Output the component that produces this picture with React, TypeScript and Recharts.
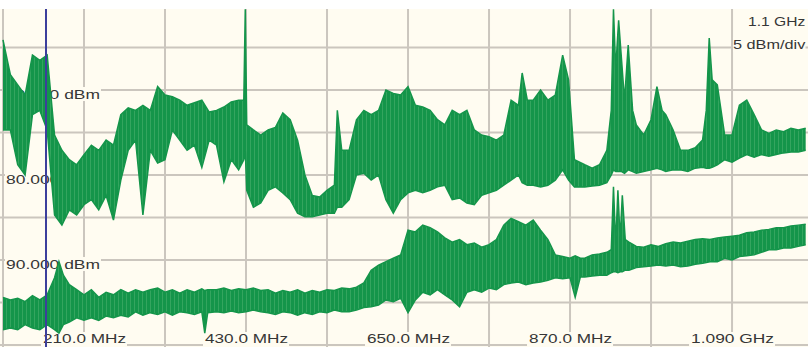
import { ComposedChart, Area, XAxis, YAxis, ReferenceLine } from "recharts";

// trace envelopes (MHz, dBm)
const upperFreq = [100, 110, 120, 130, 140, 150, 160, 170, 180, 190, 200, 210, 220, 230, 240, 250, 260, 270, 280, 290, 300, 310, 320, 330, 340, 350, 360, 370, 380, 390, 400, 410, 420, 427, 429, 431, 440, 450, 460, 470, 480, 490, 500, 510, 520, 530, 540, 550, 554, 560, 570, 580, 590, 600, 610, 620, 630, 640, 650, 660, 670, 680, 690, 700, 710, 720, 730, 740, 750, 760, 770, 780, 790, 800, 805, 812, 820, 830, 840, 850, 860, 868, 876, 890, 900, 910, 920, 926, 929, 932, 936, 940, 944, 949, 955, 960, 970, 980, 988, 995, 1000, 1010, 1020, 1030, 1040, 1050, 1055, 1059, 1063, 1070, 1080, 1090, 1100, 1110, 1120, 1130, 1140, 1150, 1160, 1170, 1180, 1190];
const upperHigh = [-64.1, -68.2, -69.4, -70.6, -65.9, -66.5, -65.9, -75.3, -77.1, -78.2, -78.8, -77.6, -76.5, -77.1, -75.9, -76.5, -72.9, -72.1, -72.4, -71.8, -72.4, -69.6, -70.6, -70.8, -71.2, -71.8, -71.5, -71.2, -72.6, -72.4, -72.0, -71.4, -71.2, -71.2, -60.5, -74.1, -74.7, -75.3, -74.7, -74.4, -72.7, -73.5, -75.9, -80.0, -82.4, -82.6, -81.8, -81.2, -72.4, -77.1, -77.1, -73.5, -72.4, -72.9, -72.4, -70.0, -70.4, -70.6, -69.6, -71.8, -72.0, -72.4, -73.5, -74.1, -72.4, -72.9, -72.4, -74.7, -75.3, -75.5, -75.9, -75.3, -71.2, -71.8, -68.0, -71.2, -71.2, -70.0, -71.2, -70.6, -65.9, -68.8, -78.2, -78.8, -79.2, -78.8, -77.1, -72.4, -60.5, -67.6, -61.8, -66.5, -71.2, -64.7, -72.4, -74.1, -75.3, -73.5, -69.6, -72.4, -72.9, -74.7, -77.1, -77.1, -76.8, -75.9, -72.4, -63.9, -68.8, -69.4, -75.3, -75.3, -71.8, -71.2, -72.9, -74.7, -75.1, -74.7, -74.9, -74.5, -74.7, -74.5];
const upperLow = [-74.7, -74.7, -78.8, -80.0, -72.9, -72.4, -74.7, -84.7, -85.9, -84.1, -84.7, -83.5, -82.9, -84.1, -82.4, -85.3, -80.6, -77.1, -75.9, -84.7, -77.1, -78.6, -78.2, -74.7, -75.9, -77.1, -76.5, -79.1, -75.9, -76.5, -80.8, -78.2, -79.4, -78.2, -77.1, -81.8, -83.8, -83.3, -81.8, -81.4, -82.1, -82.9, -84.5, -84.9, -84.9, -84.7, -84.5, -84.5, -83.8, -83.8, -82.9, -80.0, -79.8, -80.6, -80.0, -82.9, -84.5, -82.9, -82.1, -81.8, -82.1, -81.8, -81.4, -81.2, -82.9, -82.7, -83.3, -83.5, -82.4, -82.1, -81.8, -81.2, -80.6, -80.0, -80.9, -81.2, -81.2, -81.4, -81.2, -80.6, -79.4, -80.6, -81.4, -81.4, -81.3, -81.2, -80.9, -80.0, -79.4, -79.6, -79.6, -79.6, -79.8, -79.4, -79.6, -79.8, -79.6, -79.4, -79.2, -79.4, -79.6, -79.4, -79.4, -79.6, -79.2, -79.1, -79.2, -79.2, -79.1, -78.8, -78.2, -78.5, -78.0, -77.6, -77.9, -77.6, -77.8, -77.6, -77.4, -77.3, -77.3, -77.1];

const lowerFreq = [100, 110, 120, 130, 140, 150, 160, 170, 176, 182, 190, 200, 210, 220, 230, 240, 250, 260, 270, 280, 290, 300, 310, 320, 330, 340, 350, 360, 370, 374, 378, 390, 400, 410, 420, 430, 440, 450, 460, 470, 480, 490, 500, 510, 520, 530, 540, 550, 560, 570, 580, 590, 600, 610, 620, 630, 640, 650, 660, 670, 680, 690, 700, 710, 720, 730, 740, 750, 760, 770, 780, 790, 800, 810, 820, 830, 840, 850, 860, 870, 877, 884, 890, 900, 910, 920, 926, 929, 932, 935, 938, 941, 945, 950, 960, 970, 980, 990, 1000, 1010, 1020, 1030, 1040, 1050, 1060, 1070, 1080, 1090, 1100, 1110, 1120, 1130, 1140, 1150, 1160, 1170, 1180, 1190];
const lowerHigh = [-94.4, -94.7, -94.5, -94.9, -94.2, -94.7, -94.1, -92.1, -90.2, -91.8, -92.9, -93.5, -94.1, -93.5, -94.4, -93.8, -94.1, -93.5, -93.9, -93.5, -93.8, -93.5, -93.3, -93.8, -93.5, -93.9, -93.5, -93.8, -93.4, -93.6, -93.5, -93.5, -93.3, -93.6, -93.4, -93.5, -93.3, -93.6, -93.5, -93.9, -93.6, -93.8, -93.5, -93.9, -93.6, -93.8, -93.5, -93.6, -93.3, -93.4, -93.2, -92.7, -91.2, -90.6, -90.2, -89.8, -89.4, -86.5, -86.7, -85.9, -86.2, -86.7, -87.4, -87.9, -87.6, -88.2, -88.0, -88.5, -88.2, -87.6, -85.9, -85.1, -85.5, -85.9, -85.3, -86.5, -87.6, -89.4, -89.6, -89.8, -89.5, -89.8, -89.8, -89.4, -89.3, -89.1, -88.8, -81.4, -88.2, -81.8, -87.6, -82.4, -87.6, -87.9, -88.4, -88.5, -88.2, -88.4, -88.1, -87.9, -88.0, -87.8, -87.6, -87.5, -87.6, -87.4, -87.3, -87.2, -87.1, -86.8, -86.7, -86.5, -86.4, -86.2, -86.2, -86.0, -85.9, -85.8];
const lowerLow = [-98.2, -98.0, -98.2, -97.6, -98.0, -98.2, -97.6, -98.2, -98.6, -97.6, -97.3, -96.8, -97.1, -96.8, -97.1, -96.6, -96.8, -96.5, -96.7, -96.1, -96.5, -96.2, -96.4, -96.1, -96.5, -96.1, -96.2, -96.4, -96.1, -98.6, -96.2, -96.1, -96.2, -96.0, -96.2, -96.1, -95.9, -96.1, -96.2, -96.4, -96.1, -96.2, -96.5, -96.2, -96.4, -96.1, -96.2, -95.9, -96.1, -96.1, -95.9, -95.6, -95.5, -95.3, -94.7, -94.9, -94.5, -96.2, -94.7, -93.8, -94.1, -93.5, -94.1, -94.7, -95.5, -93.8, -93.5, -93.8, -93.3, -93.5, -92.9, -92.7, -92.6, -92.9, -92.7, -92.6, -92.4, -92.1, -92.2, -92.1, -94.4, -92.0, -92.0, -91.9, -91.8, -91.8, -91.5, -91.4, -91.4, -91.5, -91.4, -91.4, -91.2, -91.2, -90.9, -90.8, -90.7, -90.6, -90.7, -90.6, -90.8, -90.7, -90.5, -90.4, -90.2, -90.2, -89.8, -90.0, -89.6, -89.5, -89.4, -89.1, -88.8, -88.8, -88.6, -88.6, -88.4, -88.2];

const gridFreq = [100, 210, 320, 430, 540, 650, 760, 870, 980, 1090];
const gridLevel = [-65, -70, -75, -80, -85, -90, -95, -100];
const freqTickValues = [210, 430, 650, 870, 1090];
const freqTickLabels = ["210.0 MHz", "430.0 MHz", "650.0 MHz", "870.0 MHz", "1.090 GHz"];
const levelTickValues = [-70, -80, -90];
const levelTickLabels = ["70.000 dBm", "80.000 dBm", "90.000 dBm"];
const markerFreq = 158.4;
const spanText = "1.1 GHz";
const scaleText = "5 dBm/div";

const BG = "#fffcf1";
const GRID = "#cbc6be";
const TRACE = "#14954a";
const TRACE_LIGHT = "#34a55f";
const TEXT = "#363636";
const FONT = "'Liberation Sans', Arial, sans-serif";
const X_DOMAIN = [95.93, 1193.15];
const Y_DOMAIN = [-100.24, -60.47];

const upperData = upperFreq.map((f, i) => ({ f, v: [upperLow[i], upperHigh[i]] }));
const lowerData = lowerFreq.map((f, i) => ({ f, v: [lowerLow[i], lowerHigh[i]] }));

const LevelLabel = (props: any) => {
  const { viewBox, text } = props;
  const y = viewBox.y;
  return (
    <g>
      <rect x={5} y={y - 3} width={96} height={14} fill={BG} />
      <text x={6} y={y + 9} fontSize={13} fontFamily={FONT} fill={TEXT} textLength={94} lengthAdjust="spacingAndGlyphs">
        {text}
      </text>
    </g>
  );
};

const FreqLabel = (props: any) => {
  const { viewBox, text } = props;
  const x = viewBox.x;
  return (
    <g>
      <rect x={x - 43} y={332} width={86} height={15} fill={BG} />
      <text x={x - 41} y={343} fontSize={13} fontFamily={FONT} fill={TEXT} textLength={83} lengthAdjust="spacingAndGlyphs">
        {text}
      </text>
    </g>
  );
};

const layer: React.CSSProperties = { position: "absolute", left: 0, top: 0 };
const cornerText: React.CSSProperties = {
  position: "absolute",
  fontFamily: FONT,
  fontSize: 13,
  color: TEXT,
  background: BG,
  whiteSpace: "nowrap",
  transformOrigin: "left top",
  lineHeight: "15px",
};

export default function App() {
  return (
    <div style={{ position: "relative", width: 808, height: 347, background: "#ffffff", overflow: "hidden" }}>
      <style>{"body{margin:0}"}</style>
      <div style={{ position: "absolute", left: 0, top: 9, width: 808, height: 338, background: BG }} />

      {/* graticule and scale labels, underneath the traces */}
      <div style={layer}>
        <ComposedChart width={808} height={347} data={upperData} margin={{ top: 9, right: 0, bottom: 0, left: 0 }}>
          <XAxis type="number" dataKey="f" domain={X_DOMAIN} hide allowDataOverflow />
          <YAxis type="number" domain={Y_DOMAIN} hide allowDataOverflow />
          {gridFreq.map((f) => (
            <ReferenceLine key={"gx" + f} x={f} stroke={GRID} strokeWidth={2} />
          ))}
          {gridLevel.map((v) => (
            <ReferenceLine key={"gy" + v} y={v} stroke={GRID} strokeWidth={2} />
          ))}
          {levelTickValues.map((v, i) => (
            <ReferenceLine key={"ly" + v} y={v} stroke="none" label={<LevelLabel text={levelTickLabels[i]} />} />
          ))}
          {freqTickValues.map((f, i) => (
            <ReferenceLine key={"lx" + f} x={f} stroke="none" label={<FreqLabel text={freqTickLabels[i]} />} />
          ))}
        </ComposedChart>
      </div>

      <div style={{ ...cornerText, left: 748, top: 14, transform: "scaleX(1.2)" }}>{spanText}</div>
      <div style={{ ...cornerText, left: 733, top: 37, transform: "scaleX(1.25)" }}>{scaleText}</div>

      {/* traces */}
      <div style={layer}>
        <ComposedChart width={808} height={347} margin={{ top: 9, right: 0, bottom: 0, left: 0 }}>
          <defs>
            <pattern id="traceNoise" patternUnits="userSpaceOnUse" width={4} height={7}>
              <rect width={4} height={7} fill={TRACE} />
              <rect x={2} width={1} height={7} fill={TRACE_LIGHT} />
            </pattern>
          </defs>
          <XAxis type="number" dataKey="f" domain={X_DOMAIN} hide allowDataOverflow />
          <YAxis type="number" domain={Y_DOMAIN} hide allowDataOverflow />
          <Area
            data={upperData}
            dataKey="v"
            type="linear"
            stroke={TRACE}
            strokeWidth={1.5}
            fill="url(#traceNoise)"
            fillOpacity={1}
            isAnimationActive={false}
          />
          <Area
            data={lowerData}
            dataKey="v"
            type="linear"
            stroke={TRACE}
            strokeWidth={1.5}
            fill="url(#traceNoise)"
            fillOpacity={1}
            isAnimationActive={false}
          />
          <ReferenceLine x={markerFreq} stroke="#3c3f9c" strokeWidth={2} />
        </ComposedChart>
      </div>
    </div>
  );
}
